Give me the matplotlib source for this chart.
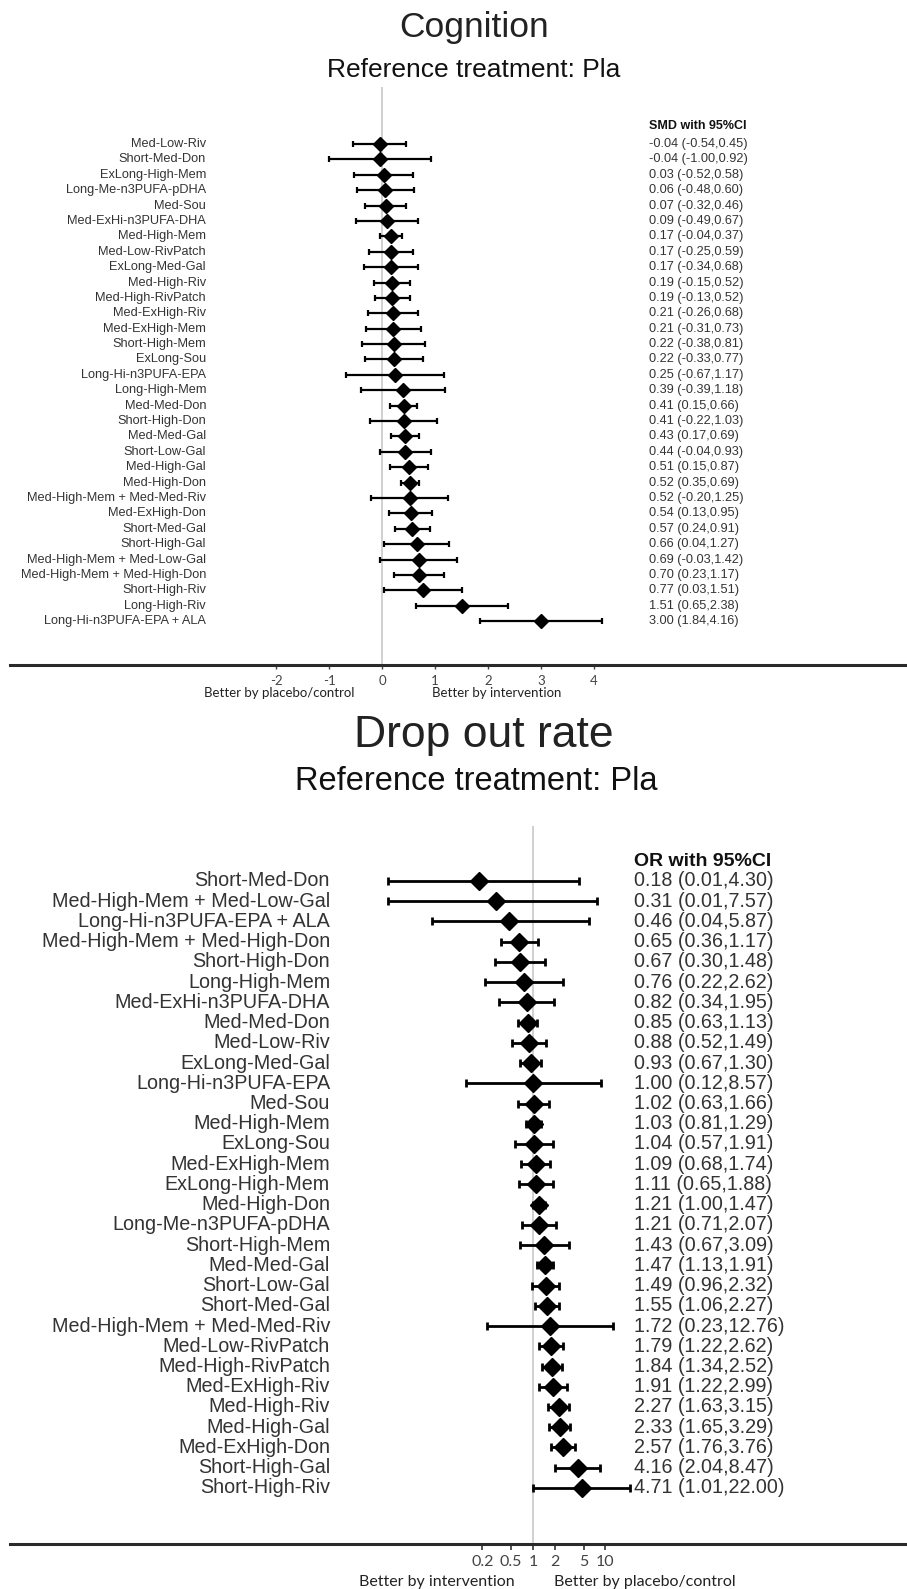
import numpy as np
import matplotlib
matplotlib.use("Agg")
import matplotlib.pyplot as plt

# ---- data: cognition (SMD) ----
cog_names = ["Med-Low-Riv", "Short-Med-Don", "ExLong-High-Mem", "Long-Me-n3PUFA-pDHA",
             "Med-Sou", "Med-ExHi-n3PUFA-DHA", "Med-High-Mem", "Med-Low-RivPatch",
             "ExLong-Med-Gal", "Med-High-Riv", "Med-High-RivPatch", "Med-ExHigh-Riv",
             "Med-ExHigh-Mem", "Short-High-Mem", "ExLong-Sou", "Long-Hi-n3PUFA-EPA",
             "Long-High-Mem", "Med-Med-Don", "Short-High-Don", "Med-Med-Gal",
             "Short-Low-Gal", "Med-High-Gal", "Med-High-Don", "Med-High-Mem + Med-Med-Riv",
             "Med-ExHigh-Don", "Short-Med-Gal", "Short-High-Gal", "Med-High-Mem + Med-Low-Gal",
             "Med-High-Mem + Med-High-Don", "Short-High-Riv", "Long-High-Riv",
             "Long-Hi-n3PUFA-EPA + ALA"]
cog_est = [-0.04, -0.04, 0.03, 0.06, 0.07, 0.09, 0.17, 0.17, 0.17, 0.19, 0.19, 0.21,
           0.21, 0.22, 0.22, 0.25, 0.39, 0.41, 0.41, 0.43, 0.44, 0.51, 0.52, 0.52,
           0.54, 0.57, 0.66, 0.69, 0.70, 0.77, 1.51, 3.00]
cog_lo = [-0.54, -1.00, -0.52, -0.48, -0.32, -0.49, -0.04, -0.25, -0.34, -0.15, -0.13, -0.26,
          -0.31, -0.38, -0.33, -0.67, -0.39, 0.15, -0.22, 0.17, -0.04, 0.15, 0.35, -0.20,
          0.13, 0.24, 0.04, -0.03, 0.23, 0.03, 0.65, 1.84]
cog_hi = [0.45, 0.92, 0.58, 0.60, 0.46, 0.67, 0.37, 0.59, 0.68, 0.52, 0.52, 0.68,
          0.73, 0.81, 0.77, 1.17, 1.18, 0.66, 1.03, 0.69, 0.93, 0.87, 0.69, 1.25,
          0.95, 0.91, 1.27, 1.42, 1.17, 1.51, 2.38, 4.16]
cog_ticks = [-2, -1, 0, 1, 2, 3, 4]

# ---- data: drop out rate (OR) ----
drop_names = ["Short-Med-Don", "Med-High-Mem + Med-Low-Gal", "Long-Hi-n3PUFA-EPA + ALA",
              "Med-High-Mem + Med-High-Don", "Short-High-Don", "Long-High-Mem",
              "Med-ExHi-n3PUFA-DHA", "Med-Med-Don", "Med-Low-Riv", "ExLong-Med-Gal",
              "Long-Hi-n3PUFA-EPA", "Med-Sou", "Med-High-Mem", "ExLong-Sou",
              "Med-ExHigh-Mem", "ExLong-High-Mem", "Med-High-Don", "Long-Me-n3PUFA-pDHA",
              "Short-High-Mem", "Med-Med-Gal", "Short-Low-Gal", "Short-Med-Gal",
              "Med-High-Mem + Med-Med-Riv", "Med-Low-RivPatch", "Med-High-RivPatch",
              "Med-ExHigh-Riv", "Med-High-Riv", "Med-High-Gal", "Med-ExHigh-Don",
              "Short-High-Gal", "Short-High-Riv"]
drop_est = [0.18, 0.31, 0.46, 0.65, 0.67, 0.76, 0.82, 0.85, 0.88, 0.93, 1.00, 1.02,
            1.03, 1.04, 1.09, 1.11, 1.21, 1.21, 1.43, 1.47, 1.49, 1.55, 1.72, 1.79,
            1.84, 1.91, 2.27, 2.33, 2.57, 4.16, 4.71]
drop_lo = [0.01, 0.01, 0.04, 0.36, 0.30, 0.22, 0.34, 0.63, 0.52, 0.67, 0.12, 0.63,
           0.81, 0.57, 0.68, 0.65, 1.00, 0.71, 0.67, 1.13, 0.96, 1.06, 0.23, 1.22,
           1.34, 1.22, 1.63, 1.65, 1.76, 2.04, 1.01]
drop_hi = [4.30, 7.57, 5.87, 1.17, 1.48, 2.62, 1.95, 1.13, 1.49, 1.30, 8.57, 1.66,
           1.29, 1.91, 1.74, 1.88, 1.47, 2.07, 3.09, 1.91, 2.32, 2.27, 12.76, 2.62,
           2.52, 2.99, 3.15, 3.29, 3.76, 8.47, 22.00]
drop_ticks = [0.2, 0.5, 1, 2, 5, 10]

W, H = 907, 1589
ARIAL = ["Liberation Sans", "DejaVu Sans"]
CALIBRI = ["Lato", "DejaVu Sans"]

fig = plt.figure(figsize=(W / 100, H / 100), dpi=100)


def px_axes(left, top, right, bottom):
    # axes placed by pixel edges (from the top-left corner)
    return fig.add_axes([left / W, 1 - bottom / H, (right - left) / W, (bottom - top) / H])


def ftext(x, y, s, **kw):
    fig.text(x / W, 1 - y / H, s, **kw)


def forest(ax, names, est, lo, hi, header, hy, lab_x, val_x, fs, hfs, ms, lw, cap):
    y = np.arange(len(names))
    est = np.array(est)
    err = [est - np.array(lo), np.array(hi) - est]
    ax.errorbar(est, y, xerr=err, fmt="none", ecolor="black", elinewidth=lw,
                capsize=cap, capthick=lw, zorder=3)
    ax.plot(est, y, "D", color="black", ms=ms, zorder=4)
    ax.axvline(1 if ax.get_xscale() == "log" else 0, color="#c8c8c8", lw=1.2, zorder=1)
    tr = ax.get_yaxis_transform()
    for i, n in enumerate(names):
        ax.text(lab_x, i, n, transform=tr, ha="right", va="center", fontsize=fs,
                family=ARIAL, color="#333333")
        ax.text(val_x, i, "%.2f (%.2f,%.2f)" % (est[i], lo[i], hi[i]), transform=tr,
                ha="left", va="center", fontsize=fs, family=ARIAL, color="#333333")
    ax.text(val_x, hy, header, transform=tr, ha="left", va="center", fontsize=hfs,
            family=ARIAL, weight="bold", color="#111111")
    for s in ["top", "left", "right"]:
        ax.spines[s].set_visible(False)
    ax.spines["bottom"].set_linewidth(2.2)
    ax.spines["bottom"].set_color("#2a2a2a")
    ax.set_yticks([])


# ---- top panel: cognition ----
ax1 = px_axes(10, 87, W, 665)
ax1.set_xlim((10 - 382) / 53.0, (W - 382) / 53.0)
ax1.set_ylim((665 - 144) / 15.39, (87 - 144) / 15.39)
forest(ax1, cog_names, cog_est, cog_lo, cog_hi, "SMD with 95%CI", -1.2,
       (206 - 10) / 897, (649 - 10) / 897, 9.2, 9, 7.2, 1.6, 2.2)
ax1.set_xticks(cog_ticks)
ax1.set_xticklabels([str(t) for t in cog_ticks], family=CALIBRI, fontsize=9.5, color="#444444")
ax1.tick_params(axis="x", length=3, width=1, color="#444444", pad=4)

ftext(474, 28, "Cognition", ha="center", va="center", fontsize=25.5, family=ARIAL, color="#222222")
ftext(474, 70, "Reference treatment: Pla", ha="center", va="center", fontsize=19,
      family=ARIAL, color="#111111")
ftext(279, 693, "Better by placebo/control", ha="center", va="center", fontsize=9.5,
      family=CALIBRI, color="#222222")
ftext(497, 693, "Better by intervention", ha="center", va="center", fontsize=9.5,
      family=CALIBRI, color="#222222")

# ---- bottom panel: drop out rate ----
ax2 = px_axes(10, 826, W, 1544)
ax2.set_xscale("log")
ax2.set_xlim(10 ** ((10 - 533) / 72.5), 10 ** ((W - 533) / 72.5))
ax2.set_ylim((1544 - 881) / 20.23, (826 - 881) / 20.23)
forest(ax2, drop_names, drop_est, drop_lo, drop_hi, "OR with 95%CI", -0.95,
       (330 - 10) / 897, (634 - 10) / 897, 14.2, 14, 9.3, 2.0, 3.0)
ax2.set_xticks(drop_ticks)
ax2.set_xticklabels([("%g" % t) for t in drop_ticks], family=CALIBRI, fontsize=11.5,
                    color="#444444")
ax2.xaxis.set_minor_locator(matplotlib.ticker.NullLocator())
ax2.tick_params(axis="x", length=4, width=1.2, color="#333333", pad=4)

ftext(484, 735, "Drop out rate", ha="center", va="center", fontsize=32, family=ARIAL,
      color="#222222")
ftext(476, 782, "Reference treatment: Pla", ha="center", va="center", fontsize=23.5,
      family=ARIAL, color="#111111")
ftext(437, 1582, "Better by intervention", ha="center", va="center", fontsize=11.5,
      family=CALIBRI, color="#222222")
ftext(645, 1582, "Better by placebo/control", ha="center", va="center", fontsize=11.5,
      family=CALIBRI, color="#222222")

fig.savefig("out.png", dpi=100, facecolor="white")
